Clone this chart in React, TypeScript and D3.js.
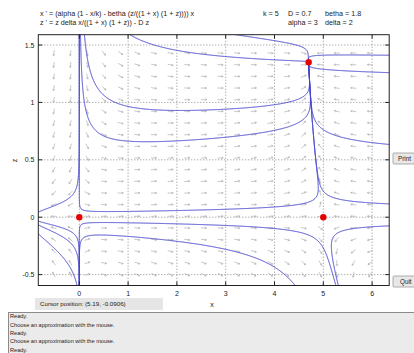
import React from "react";
import * as d3 from "d3";

const WIDTH = 414;
const HEIGHT = 353;

// Model parameters (shown in the header)
const K = 5;
const D = 0.7;
const BETHA = 1.8;
const ALPHA = 3;
const DELTA = 2;

// Display window
const X_DOMAIN = [-0.84, 6.35];
const Z_DOMAIN = [-0.595, 1.59];

const xTicks = [0, 1, 2, 3, 4, 5, 6];
const zTicks = [-0.5, 0, 0.5, 1, 1.5];

// Equilibrium points
const eqX = [0, 5, 4.7];
const eqZ = [0, 0, 1.35];

// Starting points of the computed solution curves
const seedX = [2.0, 2.0, 2.0, 1.3, 4.11, 5.8, 5.8, 5.8, 5.8, 5.82, -0.6, 2.0, 2.0, -0.8, -0.8, -0.8];
const seedZ = [0.93, 0.665, 0.058, 1.535, 1.53, 1.413, 1.268, 0.13, -0.09, 0.66, 0.085, -0.058, -0.21, -0.04, -0.075, -0.16];

// Direction field sample grid
const fieldXRange = [-0.52, 5.96];
const fieldZRange = [1.43, -0.5];
const fieldCount = 20;

const messages = [
  "Ready.",
  "Choose an approximation with the mouse.",
  "Ready.",
  "Choose an approximation with the mouse.",
  "Ready.",
];

const cursorText = "Cursor position:  (5.19, -0.0906)";

// Plot frame
const PL = 38.3;
const PR = 389.2;
const PT = 34.7;
const PB = 285.5;

const FONT = "'Liberation Sans', Arial, Helvetica, sans-serif";

const xScale = d3.scaleLinear().domain(X_DOMAIN).range([PL, PR]);
const zScale = d3.scaleLinear().domain(Z_DOMAIN).range([PB, PT]);
const kx = (PR - PL) / (X_DOMAIN[1] - X_DOMAIN[0]);
const kz = (PB - PT) / (Z_DOMAIN[1] - Z_DOMAIN[0]);

function rhs(x: number, z: number): [number, number] {
  const q = (1 + x) * (1 + z);
  const dx = (ALPHA * (1 - x / K) - BETHA * (z / q)) * x;
  const dz = (z * DELTA * x) / q - D * z;
  return [dx, dz];
}

// unit step (in screen pixels) along the vector field
function unitStep(x: number, z: number, s: number): [number, number] | null {
  const [fx, fz] = rhs(x, z);
  const n = Math.hypot(fx * kx, fz * kz);
  if (!(n > 1e-13)) return null;
  return [(s * fx) / n, (s * fz) / n];
}

function nearEquilibrium(x: number, z: number) {
  for (let i = 0; i < eqX.length; i++) {
    const d = Math.hypot((x - eqX[i]) * kx, (z - eqZ[i]) * kz);
    if (d < 1.6) return true;
  }
  return false;
}

function solve(x0: number, z0: number, s: number): [number, number][] {
  const pts: [number, number][] = [[x0, z0]];
  let x = x0;
  let z = z0;
  let prev: [number, number] | null = null;
  const h = 0.4;
  for (let i = 0; i < 9000; i++) {
    const k1 = unitStep(x, z, s);
    if (!k1) break;
    const k2 = unitStep(x + (h / 2) * k1[0], z + (h / 2) * k1[1], s);
    if (!k2) break;
    const k3 = unitStep(x + (h / 2) * k2[0], z + (h / 2) * k2[1], s);
    if (!k3) break;
    const k4 = unitStep(x + h * k3[0], z + h * k3[1], s);
    if (!k4) break;
    const dx = (h / 6) * (k1[0] + 2 * k2[0] + 2 * k3[0] + k4[0]);
    const dz = (h / 6) * (k1[1] + 2 * k2[1] + 2 * k3[1] + k4[1]);
    if (prev && dx * prev[0] * kx * kx + dz * prev[1] * kz * kz < 0) break;
    x += dx;
    z += dz;
    prev = [dx, dz];
    pts.push([x, z]);
    if (
      x < X_DOMAIN[0] - 0.02 ||
      x > X_DOMAIN[1] + 0.02 ||
      z < Z_DOMAIN[0] - 0.02 ||
      z > Z_DOMAIN[1] + 0.02
    )
      break;
    if (nearEquilibrium(x, z)) break;
  }
  return pts;
}

const lineGen = d3
  .line<[number, number]>()
  .x((d) => xScale(d[0]))
  .y((d) => zScale(d[1]));

function arrowPath(x: number, z: number) {
  const [fx, fz] = rhs(x, z);
  let ux = fx * kx;
  let uy = -fz * kz;
  const n = Math.hypot(ux, uy);
  if (!(n > 0)) return "";
  ux /= n;
  uy /= n;
  const cx = xScale(x);
  const cy = zScale(z);
  const L = 5.6;
  const tx = cx - (ux * L) / 2;
  const ty = cy - (uy * L) / 2;
  const hx = cx + (ux * L) / 2;
  const hy = cy + (uy * L) / 2;
  const a = 0.5;
  const hl = 1.9;
  const rot = (ang: number): [number, number] => [
    ux * Math.cos(ang) - uy * Math.sin(ang),
    ux * Math.sin(ang) + uy * Math.cos(ang),
  ];
  const r1 = rot(a);
  const r2 = rot(-a);
  const f = (v: number) => v.toFixed(2);
  return `M${f(tx)},${f(ty)}L${f(hx)},${f(hy)}M${f(hx - r1[0] * hl)},${f(hy - r1[1] * hl)}L${f(hx)},${f(hy)}L${f(hx - r2[0] * hl)},${f(hy - r2[1] * hl)}`;
}

export default function App() {
  const trajectories = seedX.map((sx, i) => {
    const back = solve(sx, seedZ[i], -1).reverse();
    const fwd = solve(sx, seedZ[i], 1);
    return back.concat(fwd.slice(1));
  });

  const colXs = d3.range(fieldCount).map(
    (i) => fieldXRange[0] + ((fieldXRange[1] - fieldXRange[0]) * i) / (fieldCount - 1)
  );
  const rowZs = d3.range(fieldCount).map(
    (i) => fieldZRange[0] + ((fieldZRange[1] - fieldZRange[0]) * i) / (fieldCount - 1)
  );
  const arrows: string[] = [];
  rowZs.forEach((z) => colXs.forEach((x) => arrows.push(arrowPath(x, z))));

  const headerLeft = [
    "x ' = (alpha (1 - x/k) - betha (z/((1 + x) (1 + z)))) x",
    "z ' = z delta x/((1 + x) (1 + z)) - D z",
  ];

  return (
    <div style={{ position: "absolute", left: 0, top: 0 }}>
      <svg width={WIDTH} height={HEIGHT} style={{ display: "block", background: "#ffffff" }} fontFamily={FONT}>
        <defs>
          <clipPath id="plotClip">
            <rect x={PL} y={PT} width={PR - PL} height={PB - PT} />
          </clipPath>
        </defs>

        {/* header */}
        <g fontSize={7.2} fill="#222">
          <text x={40} y={15.5}>{headerLeft[0]}</text>
          <text x={40} y={24.5}>{headerLeft[1]}</text>
          <text x={263} y={15.5}>{`k = ${K}`}</text>
          <text x={288} y={15.5}>{`D = ${D}`}</text>
          <text x={325} y={15.5}>{`betha = ${BETHA}`}</text>
          <text x={288} y={24.5}>{`alpha = ${ALPHA}`}</text>
          <text x={325} y={24.5}>{`delta = ${DELTA}`}</text>
        </g>

        {/* grid */}
        <g stroke="#707070" strokeWidth={0.8} strokeDasharray="1 2">
          {xTicks.map((t) => (
            <line key={`gx${t}`} x1={xScale(t)} x2={xScale(t)} y1={PT} y2={PB} />
          ))}
          {zTicks.map((t) => (
            <line key={`gz${t}`} x1={PL} x2={PR} y1={zScale(t)} y2={zScale(t)} />
          ))}
        </g>

        {/* direction field */}
        <g stroke="#b0b0b0" strokeWidth={0.7} fill="none" clipPath="url(#plotClip)">
          {arrows.map((d, i) => (
            <path key={i} d={d} />
          ))}
        </g>

        {/* solution curves */}
        <g stroke="#4242cc" strokeWidth={1} fill="none" clipPath="url(#plotClip)" strokeLinejoin="round">
          {trajectories.map((pts, i) => (
            <path key={i} d={lineGen(pts) || ""} />
          ))}
        </g>

        {/* equilibria */}
        <g fill="#e80000">
          {eqX.map((x, i) => (
            <circle key={i} cx={xScale(x)} cy={zScale(eqZ[i])} r={3.2} />
          ))}
        </g>

        {/* frame and ticks */}
        <rect x={PL} y={PT} width={PR - PL} height={PB - PT} fill="none" stroke="#222" strokeWidth={1} />
        <g stroke="#222" strokeWidth={1}>
          {xTicks.map((t) => (
            <g key={`tx${t}`}>
              <line x1={xScale(t)} x2={xScale(t)} y1={PB} y2={PB - 4} />
              <line x1={xScale(t)} x2={xScale(t)} y1={PT} y2={PT + 4} />
            </g>
          ))}
          {zTicks.map((t) => (
            <g key={`tz${t}`}>
              <line x1={PL} x2={PL + 4} y1={zScale(t)} y2={zScale(t)} />
              <line x1={PR} x2={PR - 4} y1={zScale(t)} y2={zScale(t)} />
            </g>
          ))}
        </g>

        {/* tick labels */}
        <g fontSize={7} fill="#222">
          {xTicks.map((t) => (
            <text key={`lx${t}`} x={xScale(t)} y={296} textAnchor="middle">
              {String(t)}
            </text>
          ))}
          {zTicks.map((t) => (
            <text key={`lz${t}`} x={34.5} y={zScale(t) + 2.5} textAnchor="end">
              {String(t)}
            </text>
          ))}
        </g>

        {/* axis labels */}
        <text x={212} y={306.5} fontSize={7} fill="#222" textAnchor="middle">x</text>
        <text x={0} y={0} fontSize={7} fill="#222" textAnchor="middle" transform="translate(16.5,160.5) rotate(-90)">z</text>

        {/* cursor readout */}
        <rect x={35} y={298} width={128} height={12} fill="#e6e6e6" />
        <text x={40} y={306.3} fontSize={6.2} fill="#222">{cursorText}</text>

        {/* buttons */}
        <g>
          <rect x={393} y={153} width={30} height={11} rx={1} fill="#e8e8e8" stroke="#9a9a9a" strokeWidth={0.8} />
          <text x={398} y={161} fontSize={6.3} fill="#222">Print</text>
          <rect x={393} y={276} width={30} height={11} rx={1} fill="#e8e8e8" stroke="#9a9a9a" strokeWidth={0.8} />
          <text x={400} y={284} fontSize={6.3} fill="#222">Quit</text>
        </g>

        {/* message box */}
        <rect x={8.5} y={312.5} width={410} height={45} fill="#ebebeb" stroke="#8a8a8a" strokeWidth={1} />
        <g fontSize={5.6} fill="#222">
          {messages.map((m, i) => (
            <text key={i} x={10} y={318.2 + i * 8.4}>
              {m}
            </text>
          ))}
        </g>
      </svg>
    </div>
  );
}
